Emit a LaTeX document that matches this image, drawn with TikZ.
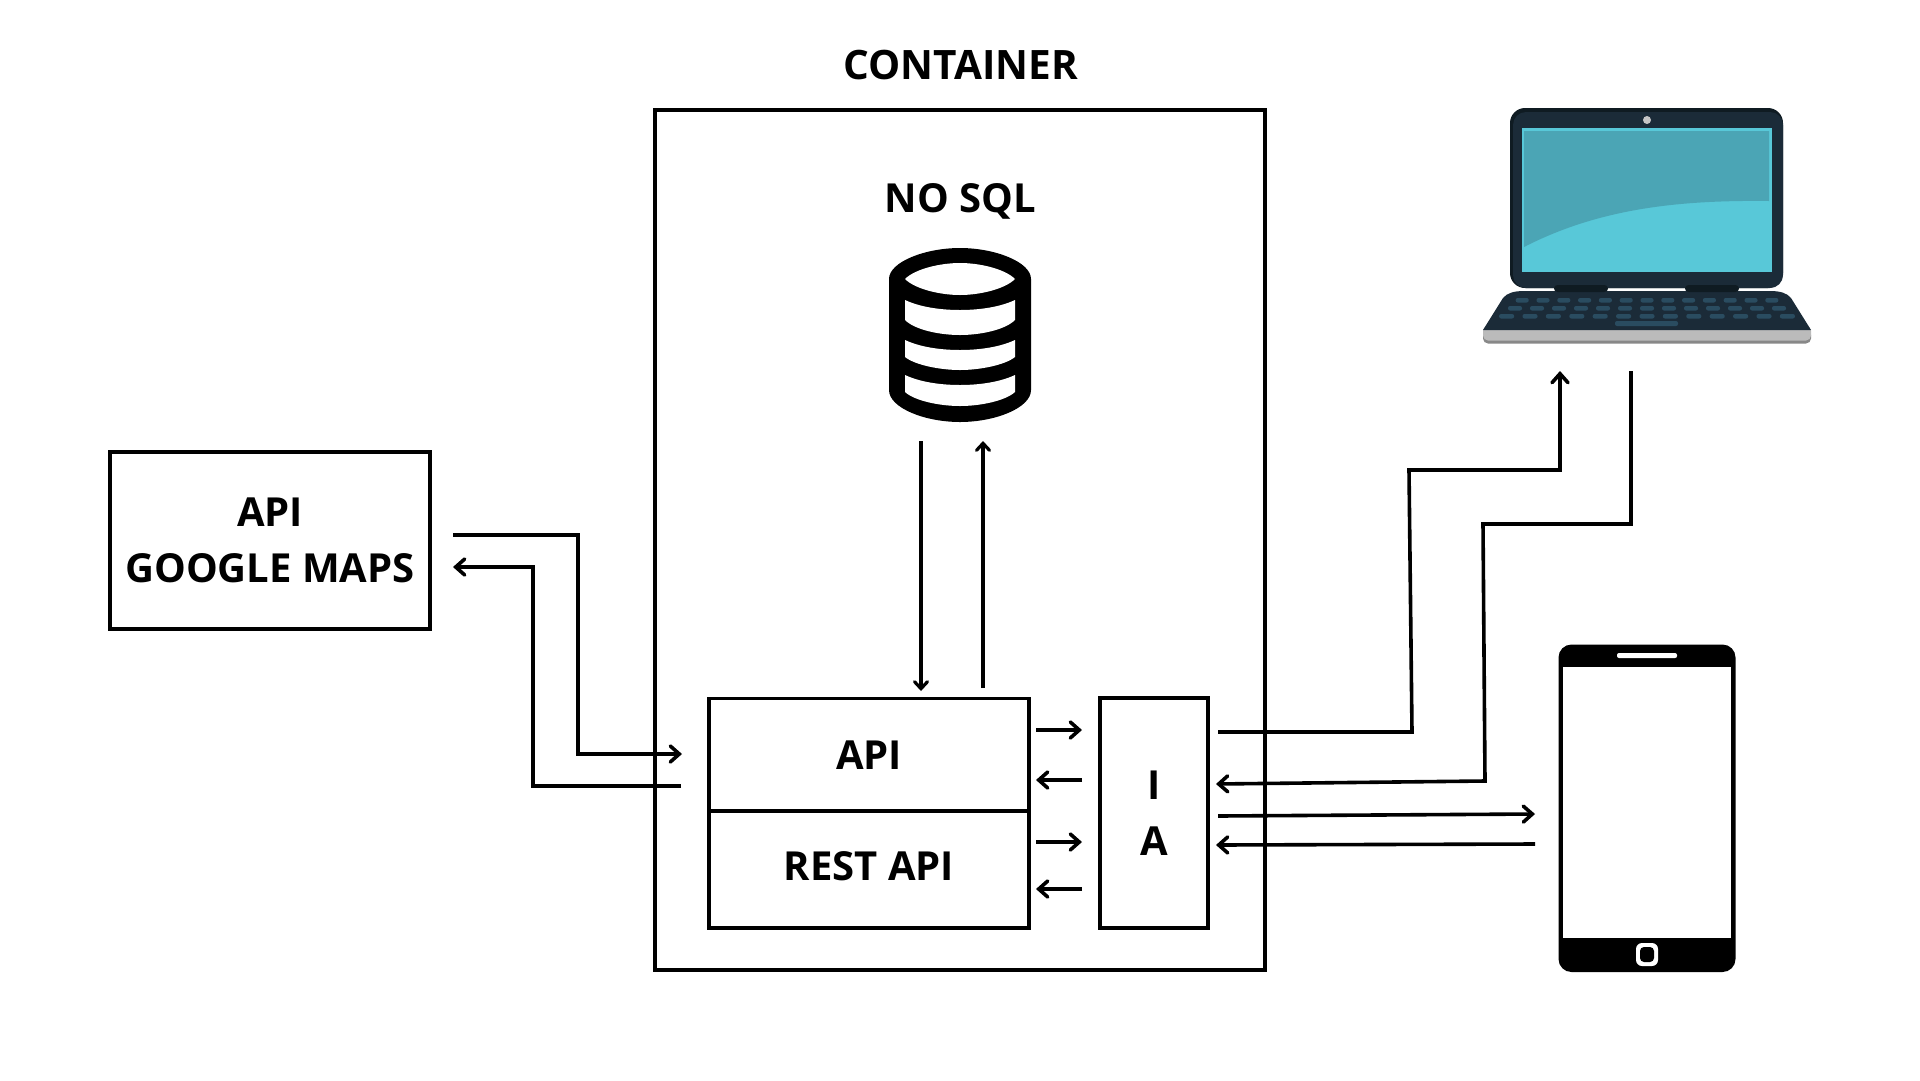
\documentclass[tikz,border=0pt]{standalone}
\usepackage{fontspec}
\setmainfont{Open Sans}
\usetikzlibrary{arrows.meta}
\definecolor{lapbody}{HTML}{1B2B38}
\definecolor{lapedge}{HTML}{0F1B22}
\definecolor{lapscreen}{HTML}{58C8D8}
\definecolor{lapshade}{HTML}{4BA5B5}
\definecolor{lapkey}{HTML}{2A4C60}
\definecolor{lapsilver}{HTML}{BBBBBB}
\definecolor{lapgrey}{HTML}{888888}
\begin{document}
\begin{tikzpicture}[
    x=1pt, y=-1pt,
    label/.style={font=\bfseries\fontsize{40}{56}\selectfont, align=center, inner sep=0pt},
    box/.style={draw, line width=3.6pt, inner sep=0pt, label},
    link/.style={line width=3.6pt, -{Straight Barb[length=9pt,width=16pt,line cap=round]}},
    dblink/.style={line width=3.2pt, -{Straight Barb[length=7pt,width=13pt,line cap=round]}}
]
    \useasboundingbox (0,0) rectangle (1920,1080);
    \fill[white] (0,0) rectangle (1920,1080);

    % boxes
    \node[box, minimum width=610pt, minimum height=860pt] (container) at (960,540) {};
    \node[label, font=\bfseries\fontsize{40.5}{56}\selectfont] (containertext) at (961,65) {CONTAINER};
    \node[label] (nosql) at (960.5,201) {NO SQL};
    \node[box, minimum width=320pt, minimum height=177pt] (maps) at (270,540.5) {API\\GOOGLE MAPS};
    \node[box, minimum width=320pt, minimum height=113pt] (api) at (869,755) {API};
    \node[box, minimum width=320pt, minimum height=117pt, text depth=7.5pt] (rest) at (869,869.5) {REST API};
    \node[box, minimum width=108pt, minimum height=230pt] (ia) at (1154,813) {I\\A};

    % database
    \fill[black] (889,279) .. controls (889,262) and (925,248) .. (960,248)
        .. controls (995,248) and (1031,262) .. (1031,279) -- (1031,390)
        .. controls (1031,408) and (995,422) .. (960,422)
        .. controls (925,422) and (889,408) .. (889,390) -- cycle;
    \fill[white] (905,279) .. controls (915,269) and (940,263) .. (960,263)
        .. controls (980,263) and (1005,269) .. (1015,279)
        .. controls (1005,289) and (980,295) .. (960,295)
        .. controls (940,295) and (915,289) .. (905,279) -- cycle;
    \fill[white] (905,300) .. controls (920,307) and (940,310) .. (960,310)
        .. controls (980,310) and (1000,307) .. (1015,300) -- (1015,320)
        .. controls (1005,330) and (980,335) .. (960,335)
        .. controls (940,335) and (915,330) .. (905,320) -- cycle;
    \fill[white] (905,340) .. controls (920,347) and (940,350) .. (960,350)
        .. controls (980,350) and (1000,347) .. (1015,340) -- (1015,357)
        .. controls (1005,365) and (980,370) .. (960,370)
        .. controls (940,370) and (915,365) .. (905,357) -- cycle;
    \fill[white] (905,375) .. controls (920,382) and (940,385) .. (960,385)
        .. controls (980,385) and (1000,382) .. (1015,375) -- (1015,392)
        .. controls (1005,401) and (980,406) .. (960,406)
        .. controls (940,406) and (915,401) .. (905,392) -- cycle;

    % laptop
    \fill[lapedge, rounded corners=15pt] (1510,108) rectangle (1783,288);
    \fill[lapbody, rounded corners=13pt] (1513,112) rectangle (1783,288);
    \fill[lapscreen] (1522,128) rectangle (1772,272);
    \fill[lapshade] (1524,131) -- (1769,131) -- (1769,201)
        .. controls (1680,200) and (1600,208) .. (1524,247) -- cycle;
    \fill[lapsilver!85!white] (1647,120) circle (4pt);
    \fill[lapgrey, rounded corners=5pt] (1483,330) rectangle (1811,343.5);
    \fill[lapsilver, rounded corners=5pt] (1483,326) rectangle (1811,340.5);
    \fill[lapbody] (1483,330) -- (1503,298) .. controls (1507,293) and (1514,291) .. (1524,291)
        -- (1770,291) .. controls (1780,291) and (1787,293) .. (1791,298) -- (1811,330) -- cycle;
    \fill[lapedge, rounded corners=3.5pt] (1554,285) rectangle (1608,292);
    \fill[lapedge, rounded corners=3.5pt] (1685,285) rectangle (1739,292);
    \foreach \k in {-6,...,6} {
        \fill[lapkey, rounded corners=2pt] ({1647+20.8*\k-6.5},298) rectangle ({1647+20.8*\k+6.5},302.5);
        \fill[lapkey, rounded corners=2pt] ({1647+22*\k-7},306) rectangle ({1647+22*\k+7},310.5);
        \fill[lapkey, rounded corners=2pt] ({1647+23.4*\k-7.5},314) rectangle ({1647+23.4*\k+7.5},318.5);
    }
    \fill[lapkey, rounded corners=2pt] (1615,321) rectangle (1678,326);

    % phone
    \fill[black, rounded corners=13pt] (1558.5,644.5) rectangle (1735.5,972);
    \fill[white] (1563,667) rectangle (1731,938);
    \fill[white, rounded corners=2pt] (1617,653) rectangle (1677,658);
    \fill[white, rounded corners=6pt] (1636,943) rectangle (1658,966);
    \fill[black, rounded corners=4pt] (1640,947) rectangle (1654,962);

    % free ends
    \coordinate (dbdownstart) at (921,441);
    \coordinate (dbdownend) at (921,691);
    \coordinate (dbupstart) at (983,688);
    \coordinate (dbupend) at (983,441);
    \coordinate (mapsout) at (453,535);
    \coordinate (mapsoutin) at (682,754);
    \coordinate (mapsback) at (681,786);
    \coordinate (mapsbackin) at (453,567);
    \coordinate (laptopout) at (1218,732);
    \coordinate (laptopin) at (1560,371);
    \coordinate (laptopback) at (1631,371);
    \coordinate (laptopbackin) at (1216,784);
    \coordinate (phoneout) at (1218,816);
    \coordinate (phonein) at (1535,814);
    \coordinate (phoneback) at (1535,844);
    \coordinate (phonebackin) at (1216,845);
    \coordinate (apiout) at (1036,730);
    \coordinate (apiin) at (1082,730);
    \coordinate (apiback) at (1082,780);
    \coordinate (apibackin) at (1036,780);
    \coordinate (restout) at (1036,842);
    \coordinate (restin) at (1082,842);
    \coordinate (restback) at (1082,889);
    \coordinate (restbackin) at (1036,889);

    % connectors
    \draw[dblink] (dbdownstart) -- (dbdownend);
    \draw[dblink] (dbupstart) -- (dbupend);
    \draw[link] (mapsout) -- (578,535) -- (578,754) -- (mapsoutin);
    \draw[link] (mapsback) -- (533,786) -- (533,567) -- (mapsbackin);
    \draw[link] (laptopout) -- (1412,732) -- (1409,470) -- (1560,470) -- (laptopin);
    \draw[link] (laptopback) -- (1631,524) -- (1483,524) -- (1485,781) -- (laptopbackin);
    \draw[link] (phoneout) -- (phonein);
    \draw[link] (phoneback) -- (phonebackin);
    \draw[link] (apiout) -- (apiin);
    \draw[link] (apiback) -- (apibackin);
    \draw[link] (restout) -- (restin);
    \draw[link] (restback) -- (restbackin);
\end{tikzpicture}
\end{document}
